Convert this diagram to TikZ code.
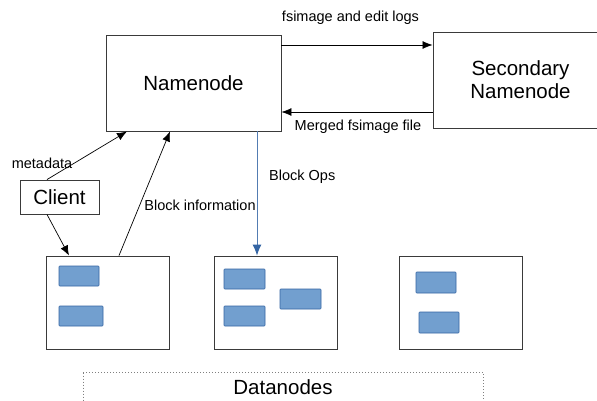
\documentclass[tikz,border=0pt]{standalone}
\usepackage{fontspec}
\setmainfont{Liberation Sans}
\usetikzlibrary{arrows.meta,calc}
\definecolor{boxline}{HTML}{3A3A3A}
\definecolor{blkfill}{HTML}{729FCF}
\definecolor{blkline}{HTML}{3465A4}
\tikzset{
  bigbox/.style={draw=boxline, line width=0.9pt, fill=white, inner sep=0pt, font=\fontsize{20.5}{23}\selectfont, align=center},
  dnbox/.style={draw=boxline, line width=0.9pt, fill=white, minimum width=123pt, minimum height=93pt, inner sep=0pt},
  lbl/.style={font=\fontsize{14.5}{16}\selectfont, inner sep=0pt},
  conn/.style={line width=0.7pt, -{Latex[length=10pt,width=8pt]}},
  blueconn/.style={draw=blkline!85, line width=0.9pt, -{Latex[length=11pt,width=9pt,color=blkline]}},
  blk/.style={fill=blkfill, draw=blkline, line width=0.6pt, rounded corners=0.8pt},
}
\begin{document}
\begin{tikzpicture}[x=1pt,y=-1pt]
\clip (0,0) rectangle (597,401);
\fill[white] (0,0) rectangle (597,401);

% main nodes
\node[bigbox, minimum width=175pt, minimum height=96pt] (namenode) at (193.5,83) {Namenode};
\node[bigbox, minimum width=175pt, minimum height=96pt] (secondary) at (520.5,80) {Secondary\\Namenode};
\node[bigbox, minimum width=79pt, minimum height=34pt] (client) at (59.5,197) {Client};

\node[dnbox] (dn1) at (107.5,302.5) {};
\node[dnbox] (dn2) at (276,302.5) {};
\node[dnbox] (dn3) at (460.5,302.5) {};

% blocks
\path[blk] (59,266) rectangle (99,286);
\path[blk] (59,306) rectangle (103,326);
\path[blk] (224,269) rectangle (265,289);
\path[blk] (224,306) rectangle (265,326);
\path[blk] (280,289) rectangle (321,309);
\path[blk] (416,272) rectangle (456,293);
\path[blk] (419,312) rectangle (459,333);

% datanodes group
\node[draw=gray, dotted, line width=1pt, minimum width=400pt, minimum height=40pt, anchor=north west, inner sep=0pt] (group) at (83,372) {};
\node[font=\fontsize{20.5}{23}\selectfont, inner sep=0pt] (grouplbl) at (283,387) {Datanodes};

% connectors
\draw[conn] (namenode.east |- 0,45) -- (secondary.west |- 0,45);
\draw[conn] (secondary.west |- 0,112) -- (namenode.east |- 0,112);
\draw[conn] (client.north -| 47,0) -- (namenode.south -| 127,0);
\draw[conn] (client.south -| 47,0) -- (dn1.north -| 69,0);
\draw[conn] (dn1.north -| 119,0) -- (namenode.south -| 170,0);
\draw[blueconn] (namenode.south -| 257,0) -- (dn2.north -| 257,0);

% labels
\node[lbl] (l1) at (350.5,18) {fsimage and edit logs};
\node[lbl] (l2) at (358,127) {Merged fsimage file};
\node[lbl] (l3) at (42,163) {metadata};
\node[lbl] (l4) at (200,205) {Block information};
\node[lbl, anchor=west] (l5) at (269,177) {Block Ops};
\end{tikzpicture}
\end{document}
